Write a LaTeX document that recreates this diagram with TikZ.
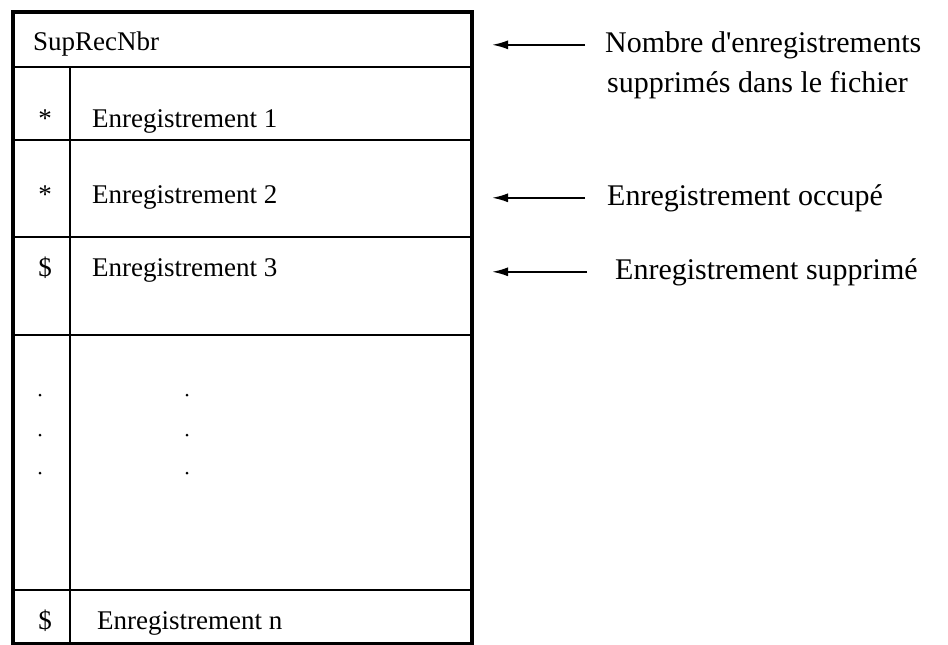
\documentclass[tikz,border=0pt]{standalone}
\usepackage{fontspec}
\setmainfont{Liberation Serif}
\usetikzlibrary{arrows.meta}

\begin{document}
\begin{tikzpicture}[x=1pt,y=-1pt,
    cell/.style={anchor=base west, inner sep=0pt, font=\fontsize{27}{32}\selectfont},
    flag/.style={anchor=base, inner sep=0pt, font=\fontsize{27}{32}\selectfont},
    note/.style={anchor=base west, inner sep=0pt, font=\fontsize{30}{36}\selectfont},
    arr/.style={-{Latex[length=16pt,width=9pt]}, line width=1.8pt}]
    \useasboundingbox (0,0) rectangle (948,645);
    \draw[line width=3.2pt] (13,12) rectangle (472,644);
    \foreach \y in {67,140,237,335,590}
      \draw[line width=2pt] (13,\y) -- (472,\y);
    \draw[line width=2.2pt] (70,67) -- (70,644);
    \node[cell] (sup) at (33,50) {SupRecNbr};
    \node[flag] (f1) at (45,127) {*};
    \node[cell] (r1) at (92,127) {Enregistrement 1};
    \node[flag] (f2) at (45,203) {*};
    \node[cell] (r2) at (92,203) {Enregistrement 2};
    \node[flag] (f3) at (45,276) {\$};
    \node[cell] (r3) at (92,276) {Enregistrement 3};
    \node[flag] (fn) at (45,629) {\$};
    \node[cell] (rn) at (97,629) {Enregistrement n};
    \foreach \y in {395,435,473} {
      \fill (40,\y) circle (1.5);
      \fill (187,\y) circle (1.5);
    }
    \node[note] (nb1) at (605,52) {Nombre d\textquotesingle enregistrements};
    \node[note] (nb2) at (607,92) {supprimés dans le fichier};
    \node[note] (occ) at (607,205) {Enregistrement occupé};
    \node[note] (del) at (615,279) {Enregistrement supprimé};
    \coordinate (edge) at (492,0);
    \draw[arr] ([xshift=-20pt]nb1.west) -- (nb1.west -| edge);
    \draw[arr] ([xshift=-22pt]occ.west) -- (occ.west -| edge);
    \draw[arr] ([xshift=-28pt]del.west) -- (del.west -| edge);
\end{tikzpicture}
\end{document}
